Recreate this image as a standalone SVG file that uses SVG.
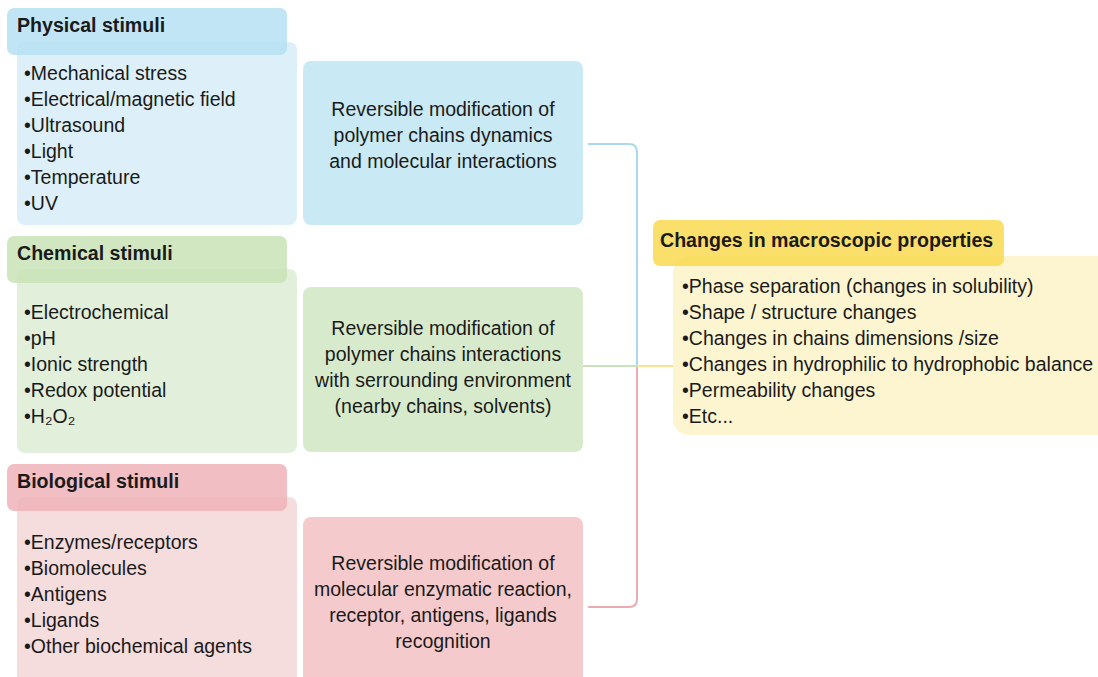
<svg xmlns="http://www.w3.org/2000/svg" width="1098" height="677" viewBox="0 0 1098 677">
<style>
text{font-family:"Liberation Sans",Arial,sans-serif;fill:#1a1a1a}
.h{font-weight:bold;font-size:19.6px}
.b{font-size:19.5px}
.m{font-size:19.5px;text-anchor:middle}
.conn{fill:none;stroke-width:2}
</style>
<rect width="1098" height="677" fill="#ffffff"/>
<g id="physical">
<rect x="17" y="42" width="280" height="183" rx="8" fill="#ddf0f9"/>
<rect x="7" y="8" width="280" height="47" rx="7" fill="#b6e1f3" fill-opacity="0.85"/>
<text class="h" x="17" y="32">Physical stimuli</text>
<text class="b" x="24" y="80">•Mechanical stress</text>
<text class="b" x="24" y="106">•Electrical/magnetic field</text>
<text class="b" x="24" y="132">•Ultrasound</text>
<text class="b" x="24" y="158">•Light</text>
<text class="b" x="24" y="184">•Temperature</text>
<text class="b" x="24" y="210">•UV</text>
</g>
<g id="physical-effect">
<rect x="303" y="61" width="280" height="164" rx="8" fill="#c9e9f4"/>
<text class="m" x="443" y="116">Reversible modification of</text>
<text class="m" x="443" y="142">polymer chains dynamics</text>
<text class="m" x="443" y="168">and molecular interactions</text>
</g>
<g id="chemical">
<rect x="17" y="269" width="280" height="184" rx="8" fill="#e2f0db"/>
<rect x="7" y="236" width="280" height="47" rx="7" fill="#c9e3b6" fill-opacity="0.85"/>
<text class="h" x="17" y="260">Chemical stimuli</text>
<text class="b" x="24" y="319">•Electrochemical</text>
<text class="b" x="24" y="345">•pH</text>
<text class="b" x="24" y="371">•Ionic strength</text>
<text class="b" x="24" y="397">•Redox potential</text>
<text class="b" x="24" y="423">•H₂O₂</text>
</g>
<g id="chemical-effect">
<rect x="303" y="287" width="280" height="165" rx="8" fill="#d7ebcc"/>
<text class="m" x="443" y="335">Reversible modification of</text>
<text class="m" x="443" y="361">polymer chains interactions</text>
<text class="m" x="443" y="387">with serrounding environment</text>
<text class="m" x="443" y="413">(nearby chains, solvents)</text>
</g>
<g id="biological">
<rect x="17" y="497" width="280" height="195" rx="8" fill="#f5dcdd"/>
<rect x="7" y="464" width="280" height="47" rx="7" fill="#efb3b8" fill-opacity="0.85"/>
<text class="h" x="17" y="488">Biological stimuli</text>
<text class="b" x="24" y="549">•Enzymes/receptors</text>
<text class="b" x="24" y="575">•Biomolecules</text>
<text class="b" x="24" y="601">•Antigens</text>
<text class="b" x="24" y="627">•Ligands</text>
<text class="b" x="24" y="653">•Other biochemical agents</text>
</g>
<g id="biological-effect">
<rect x="303" y="517" width="280" height="175" rx="8" fill="#f4cacc"/>
<text class="m" x="443" y="570">Reversible modification of</text>
<text class="m" x="443" y="596">molecular enzymatic reaction,</text>
<text class="m" x="443" y="622">receptor, antigens, ligands</text>
<text class="m" x="443" y="648">recognition</text>
</g>
<g id="connectors">
<path class="conn" stroke="#a9d9ea" d="M588 144 H629 Q637 144 637 152 V366"/>
<path class="conn" stroke="#ecabb0" d="M588 607 H629 Q637 607 637 599 V366"/>
<path class="conn" stroke="#c9e2b9" d="M583 366 H637"/>
<path class="conn" stroke="#f8e291" d="M637 366 H674"/>
</g>
<g id="macroscopic">
<rect x="673" y="256" width="440" height="179" rx="16" fill="#fdf5cf"/>
<rect x="653" y="220" width="351" height="46" rx="7" fill="#f9d950" fill-opacity="0.85"/>
<text class="h" x="660" y="247">Changes in macroscopic properties</text>
<text class="b" x="682" y="293">•Phase separation (changes in solubility)</text>
<text class="b" x="682" y="319">•Shape / structure changes</text>
<text class="b" x="682" y="345">•Changes in chains dimensions /size</text>
<text class="b" x="682" y="371">•Changes in hydrophilic to hydrophobic balance</text>
<text class="b" x="682" y="397">•Permeability changes</text>
<text class="b" x="682" y="423">•Etc...</text>
</g>
</svg>
